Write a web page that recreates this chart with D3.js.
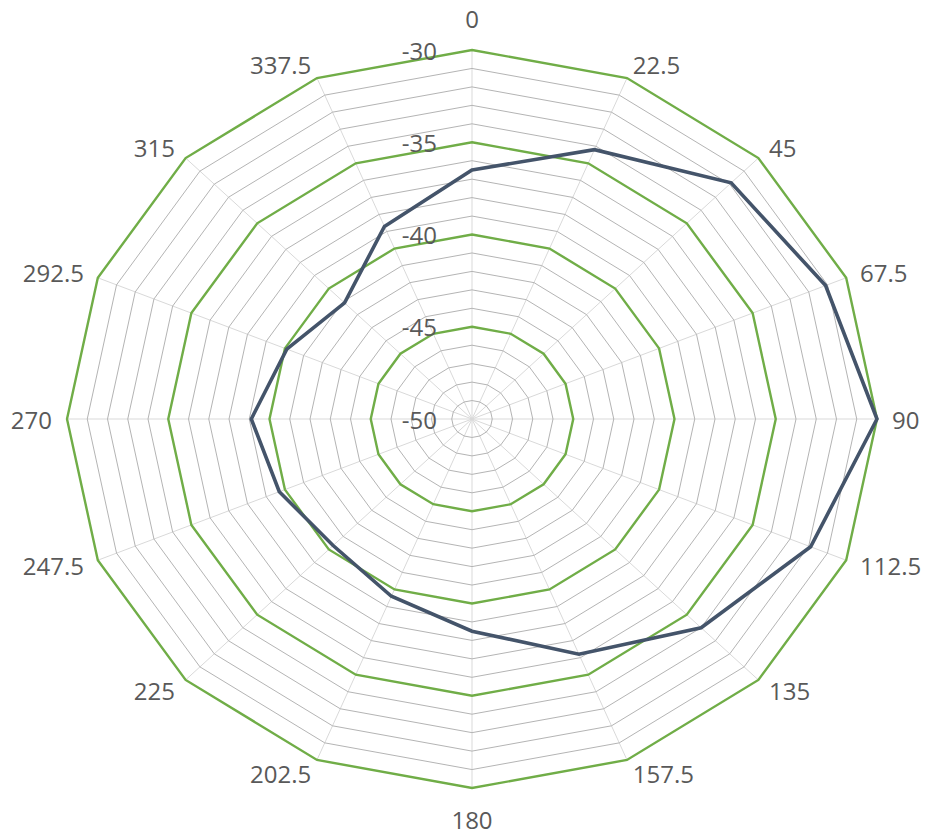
<!DOCTYPE html>
<html>
<head>
<meta charset="utf-8">
<script src="https://cdn.jsdelivr.net/npm/d3@7"></script>
<style>
  html, body { margin: 0; padding: 0; background: #ffffff; }
  svg { display: block; }
  text { font-family: "Open Sans", "Noto Sans", sans-serif; fill: #595959; }
</style>
</head>
<body>
<svg id="chart" width="932" height="835"></svg>
<script>
// ---- data ----
const categories = ["0", "22.5", "45", "67.5", "90", "112.5", "135", "157.5",
                    "180", "202.5", "225", "247.5", "270", "292.5", "315", "337.5"];
const seriesValues = [-36.5, -34.2, -31.9, -31.1, -30.0, -31.9, -34.0, -36.2,
                      -38.5, -39.6, -40.3, -39.7, -39.1, -40.1, -41.1, -38.7];
const majorTicks = [-50, -45, -40, -35, -30];
const tickLabels = ["-50", "-45", "-40", "-35", "-30"];
const minorTicks = d3.range(-49, -30, 1).filter(v => v % 5 !== 0);

// ---- layout ----
const W = 932, H = 835;
const cx = 472, cy = 419;
const rx = 405, ry = 369;

const svg = d3.select("#chart");
const rX = d3.scaleLinear().domain([-50, -30]).range([0, rx]);
const rY = d3.scaleLinear().domain([-50, -30]).range([0, ry]);
const angle = d3.scalePoint().domain(categories).range([0, 2 * Math.PI * (categories.length - 1) / categories.length]);

function pt(cat, v) {
  const a = angle(cat);
  return [cx + Math.sin(a) * rX(v), cy - Math.cos(a) * rY(v)];
}
const ringLine = d3.line().curve(d3.curveLinearClosed);
function ring(v) { return ringLine(categories.map(c => pt(c, v))); }

// spokes
svg.append("g").selectAll("line").data(categories).join("line")
  .attr("x1", cx).attr("y1", cy)
  .attr("x2", d => pt(d, -30)[0]).attr("y2", d => pt(d, -30)[1])
  .attr("stroke", "#d9d9d9").attr("stroke-width", 1);

// minor rings
svg.append("g").selectAll("path").data(minorTicks).join("path")
  .attr("d", d => ring(d))
  .attr("fill", "none").attr("stroke", "#b4b4b4").attr("stroke-width", 1);

// major rings
svg.append("g").selectAll("path").data(majorTicks.filter(v => v > -50)).join("path")
  .attr("d", d => ring(d))
  .attr("fill", "none").attr("stroke", "#70ad47").attr("stroke-width", 2.4);

// series
svg.append("path")
  .attr("d", ringLine(categories.map((c, i) => pt(c, seriesValues[i]))))
  .attr("fill", "none").attr("stroke", "#44546a").attr("stroke-width", 3.6)
  .attr("stroke-linejoin", "miter");

// tick labels
svg.append("g").selectAll("text").data(majorTicks).join("text")
  .attr("x", cx - 35)
  .attr("y", d => cy - rY(d))
  .attr("text-anchor", "end")
  .attr("dominant-baseline", "central")
  .attr("font-size", 24)
  .text((d, i) => tickLabels[i]);

// category labels
svg.append("g").selectAll("text").data(categories).join("text")
  .each(function(d) {
    const a = angle(d);
    const s = Math.sin(a), c = Math.cos(a);
    let x = cx + s * rx * 1.037;
    let y = cy - c * ry * 1.04;
    let anchor = "middle";
    if (s > 0.01) anchor = "start";
    else if (s < -0.01) anchor = "end";
    if (Math.abs(s) < 0.01) y += (c > 0 ? -17 : 17);
    d3.select(this)
      .attr("x", x).attr("y", y)
      .attr("text-anchor", anchor)
      .attr("dominant-baseline", "central")
      .attr("font-size", 24)
      .text(d);
  });
</script>
</body>
</html>
